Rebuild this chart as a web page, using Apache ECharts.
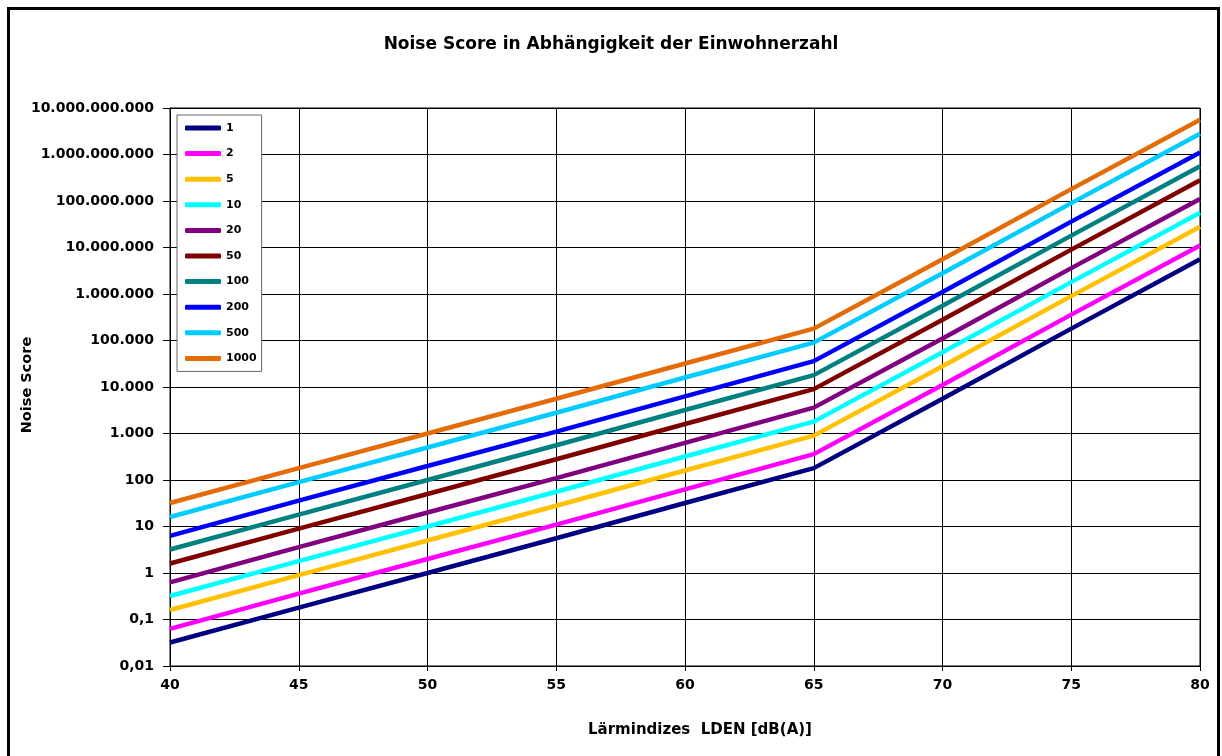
<!DOCTYPE html>
<html>
<head>
<meta charset="utf-8">
<script src="https://cdn.jsdelivr.net/npm/echarts@6/dist/echarts.min.js"></script>
<style>
  html, body { margin: 0; padding: 0; background: #fff; }
  #chart { width: 1222px; height: 756px; }
</style>
</head>
<body>
<div id="chart"></div>
<script>
// Lärmindizes LDEN [dB(A)]
var levels = [40, 45, 50, 55, 60, 65, 70, 75, 80];

// Noise Score per Einwohnerzahl
var ew1    = [0.032, 0.18, 1, 5.6, 32, 180, 5600, 180000, 5600000];
var ew2    = [0.063, 0.36, 2, 11, 63, 360, 11000, 360000, 11000000];
var ew5    = [0.16, 0.9, 5, 28, 160, 900, 28000, 900000, 28000000];
var ew10   = [0.32, 1.8, 10, 56, 320, 1800, 56000, 1800000, 56000000];
var ew20   = [0.63, 3.6, 20, 110, 630, 3600, 110000, 3600000, 110000000];
var ew50   = [1.6, 9, 50, 280, 1600, 9000, 280000, 9000000, 280000000];
var ew100  = [3.2, 18, 100, 560, 3200, 18000, 560000, 18000000, 560000000];
var ew200  = [6.3, 36, 200, 1100, 6300, 36000, 1100000, 36000000, 1100000000];
var ew500  = [16, 90, 500, 2800, 16000, 90000, 2800000, 90000000, 2800000000];
var ew1000 = [32, 180, 1000, 5600, 32000, 180000, 5600000, 180000000, 5600000000];

var seriesNames = ['1', '2', '5', '10', '20', '50', '100', '200', '500', '1000'];
var seriesValues = [ew1, ew2, ew5, ew10, ew20, ew50, ew100, ew200, ew500, ew1000];
var colors = ['#000080', '#ff00ff', '#ffc000', '#00ffff', '#800080',
              '#800000', '#008080', '#0000ff', '#00ccff', '#e36c09'];

var font = '"DejaVu Sans", Verdana, sans-serif';

function deNum(v) {
    v = Number(v.toPrecision(6));
    if (v < 1) return String(v).replace('.', ',');
    return Math.round(v).toString().replace(/\B(?=(\d{3})+(?!\d))/g, '.');
}

var chart = echarts.init(document.getElementById('chart'));

var series = [];
for (var i = 0; i < seriesNames.length; i++) {
    var pts = [];
    for (var j = 0; j < levels.length; j++) {
        pts.push([levels[j], seriesValues[i][j]]);
    }
    series.push({
        name: seriesNames[i],
        type: 'line',
        data: pts,
        showSymbol: false,
        symbol: 'none',
        lineStyle: { color: colors[i], width: 4.5 },
        itemStyle: { color: colors[i] },
        z: 3
    });
}

var option = {
    backgroundColor: '#fff',
    animation: false,
    color: colors,
    title: {
        text: 'Noise Score in Abhängigkeit der Einwohnerzahl',
        left: 'center',
        top: 31,
        textStyle: { fontFamily: font, fontSize: 17, fontWeight: 'bold', color: '#000' }
    },
    grid: {
        left: 170,
        right: 22,
        top: 108,
        bottom: 90,
        show: true,
        borderColor: '#000',
        borderWidth: 1
    },
    legend: {
        orient: 'vertical',
        left: 177,
        top: 115,
        padding: [6, 5, 6, 8],
        itemGap: 11.6,
        itemWidth: 36,
        itemHeight: 5,
        icon: 'roundRect',
        borderColor: '#666',
        borderWidth: 1,
        backgroundColor: '#fff',
        data: seriesNames,
        textStyle: { fontFamily: font, fontSize: 11, fontWeight: 'bold', color: '#000', lineHeight: 14 }
    },
    xAxis: {
        type: 'value',
        min: 40,
        max: 80,
        interval: 5,
        axisLine: { lineStyle: { color: '#000', width: 1 } },
        axisTick: { show: true, length: 5, lineStyle: { color: '#000' } },
        splitLine: { show: true, lineStyle: { color: '#000', width: 1 } },
        axisLabel: { fontFamily: font, fontSize: 14, fontWeight: 'bold', color: '#000', margin: 12 }
    },
    yAxis: {
        type: 'log',
        logBase: 10,
        min: 0.01,
        max: 10000000000,
        interval: 1,
        axisLine: { show: true, lineStyle: { color: '#000', width: 1 } },
        axisTick: { show: true, length: 7, lineStyle: { color: '#000' } },
        splitLine: { show: true, lineStyle: { color: '#000', width: 1 } },
        axisLabel: {
            fontFamily: font, fontSize: 14, fontWeight: 'bold', color: '#000', margin: 16,
            formatter: deNum
        }
    },
    graphic: [
        {
            type: 'rect',
            shape: { x: 8.5, y: 8.5, width: 1210, height: 800 },
            style: { fill: 'none', stroke: '#000', lineWidth: 3 },
            silent: true
        },
        {
            type: 'text',
            x: 700,
            y: 730,
            style: {
                text: 'Lärmindizes  LDEN [dB(A)]',
                fontFamily: font, fontSize: 15, fontWeight: 'bold', fill: '#000',
                align: 'center', verticalAlign: 'middle'
            }
        },
        {
            type: 'text',
            x: 27,
            y: 385,
            rotation: Math.PI / 2,
            style: {
                text: 'Noise Score',
                fontFamily: font, fontSize: 14.5, fontWeight: 'bold', fill: '#000',
                align: 'center', verticalAlign: 'middle'
            }
        }
    ],
    series: series
};

chart.setOption(option);
</script>
</body>
</html>
